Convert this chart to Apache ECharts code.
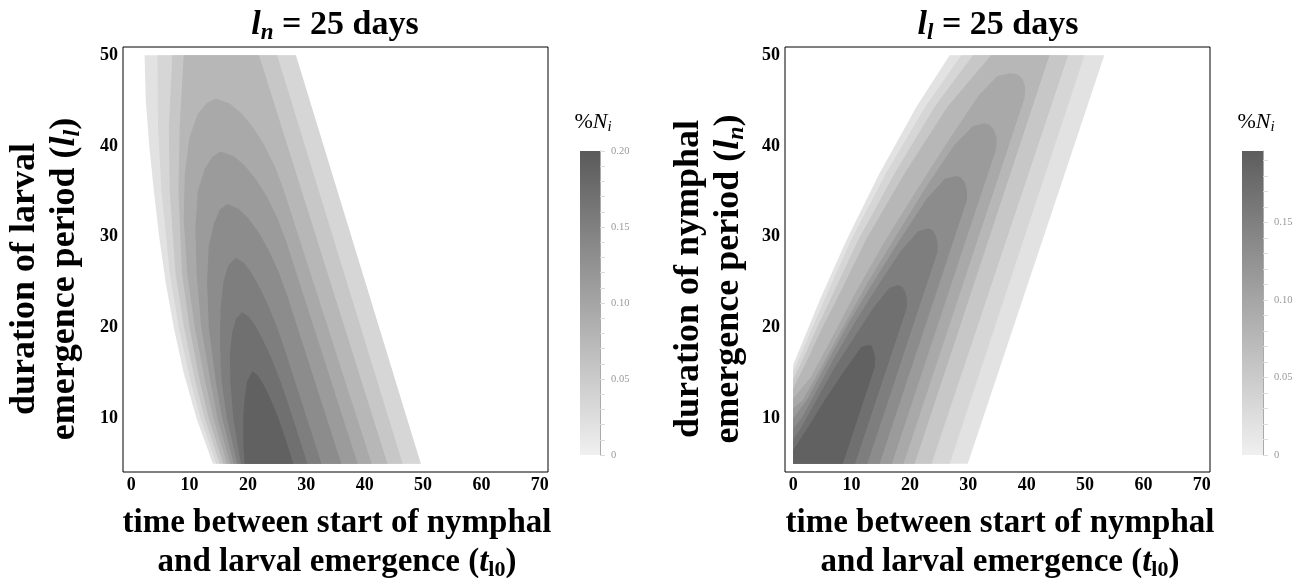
<!DOCTYPE html>
<html><head><meta charset="utf-8">
<script src="https://cdn.jsdelivr.net/npm/echarts@6/dist/echarts.min.js"></script>
<style>html,body{margin:0;padding:0;background:#fff}#c{width:1304px;height:582px}</style>
</head><body><div id="c"></div>
<script>
// ---- tick labels ----
const xTicks = [0, 10, 20, 30, 40, 50, 60, 70];
const yTicks = [10, 20, 30, 40, 50];
const cbLabelsLeft = [0, 0.05, 0.10, 0.15, 0.20];
const cbLabelsRight = [0, 0.05, 0.10, 0.15];
const cbMinorTicks = [0,0.01,0.02,0.03,0.04,0.05,0.06,0.07,0.08,0.09,0.10,0.11,0.12,0.13,0.14,0.15,0.16,0.17,0.18,0.19,0.20];
const cbMaxLeft = 0.20;
const cbMaxRight = 0.196;
// lower bound of each shaded band (%N_i); band k lies above contour level k
const bandLevels = [0, 0.02, 0.04, 0.06, 0.08, 0.10, 0.12, 0.14, 0.16, 0.18];

// ---- left panel (l_n = 25 days): regions [t_l0, l_l] where %N_i >= level ----
const leftDomain = [[2.3,50],[28.2,50],[49.6,5],[14.0,5],[11.2,10],[9.0,15],[7.3,20],[5.9,25],[4.8,30],[3.9,35],[3.1,40],[2.5,45]];
const leftL1 = [[4.5,50],[28.2,50],[49.6,5],[14.6,5],[11.9,10],[10.2,14],[8.15,20],[6.6,26],[5.2,35],[4.6,42]];
const leftL2 = [[7.05,50],[25.0,50],[46.5,5],[15.2,5],[12.6,10],[11.0,14],[9.05,20],[7.6,26],[6.6,35],[6.45,42]];
const leftL3 = [[9.0,50],[21.9,50],[32.9,27.5],[43.9,5],[15.8,5],[13.3,10],[11.8,14],[10.0,20],[8.7,26],[8.1,35],[8.3,42]];
const leftL4 = [[14.5,45.2],[16.81,44.7],[18.73,43.7],[20.71,42.2],[22.72,40.2],[24.64,37.7],[26.1,35.2],[41.2,5],[16.4,5],[14.1,10],[12.7,14],[10.9,20],[9.6,26],[9.0,32],[9.2,37],[10.0,41],[11.4,43.5],[12.9,44.7]];
const leftL5 = [[15.3,39.4],[17.52,38.9],[19.37,37.9],[21.3,36.4],[23.26,34.4],[25.15,31.9],[26.6,29.4],[38.8,5],[17.0,5],[14.8,10],[13.6,14],[12.0,20],[11.2,26],[11.0,31],[11.4,35],[12.6,37.5],[13.9,38.8]];
const leftL6 = [[16.5,33.6],[18.37,33.1],[19.99,32.1],[21.71,30.6],[23.5,28.6],[25.28,26.1],[26.7,23.6],[36.0,5],[17.6,5],[15.6,10],[14.5,14],[13.3,20],[13.0,25],[13.3,29],[14.2,31.5],[15.2,33]];
const leftL7 = [[17.9,27.7],[19.2,27.2],[20.42,26.2],[21.79,24.7],[23.3,22.7],[24.89,20.2],[26.25,17.7],[32.6,5],[18.2,5],[16.4,10],[15.5,14],[15.2,18],[15.3,22],[15.8,25],[16.6,26.8]];
const leftL8 = [[19.0,21.7],[20.14,21.2],[21.25,20.2],[22.53,18.7],[23.97,16.7],[25.51,14.2],[26.85,11.7],[30.2,5],[18.8,5],[17.5,10],[17.0,14],[16.9,17],[17.3,19.5],[18.0,21]];
const leftL9 = [[20.75,15.2],[21.54,14.85],[22.31,14.14],[23.21,13.07],[24.21,11.65],[25.3,9.88],[26.25,8.1],[27.8,5],[19.4,5],[19.2,7.5],[19.2,10],[19.4,12],[19.8,14]];

// ---- right panel (l_l = 25 days): regions [t_l0, l_n] ----
const rightDomain = [[0,5],[29.9,5],[53.3,50],[26.8,50],[21.1,44.3],[14.8,37.0],[9.1,29.6],[4.54,23.0],[0,15.9]];
const rightL1 = [[0,5],[26.8,5],[49.9,50],[28.8,50],[22.6,44.3],[15.9,37],[9.9,29.6],[5.3,23],[3.3,20],[0.6,16],[0,15.2]];
const rightL2 = [[0,5],[23.7,5],[47.1,50],[30.8,50],[24.2,44.3],[17.4,37],[11.1,29.6],[6.3,23],[4.1,20],[1.3,16],[0,14.3]];
const rightL3 = [[0,5],[20.8,5],[43.9,50],[33.9,50],[26.4,44.3],[19.1,37],[12.4,29.6],[7.4,23],[5.0,20],[2.1,16],[0,13.3]];
const rightL4 = [[0,5],[18.9,5],[39.65,45.3],[39.75,46.4],[39.3,47.4],[38.4,47.9],[37.1,48.0],[35.0,47.7],[31.8,45.6],[26.8,40.8],[21.0,35.0],[15.6,29.4],[10.8,24.0],[6.5,18.7],[3.0,14.5],[0,12.2]];
const rightL5 = [[0,5],[16.9,5],[34.77,39.7],[34.85,40.8],[34.4,41.8],[33.6,42.35],[32.8,42.5],[30.8,42.2],[27.6,40.1],[22.8,35.5],[17.8,30.3],[12.8,25.0],[8.3,19.8],[4.3,15.0],[1.6,12.0],[0,11.1]];
const rightL6 = [[0,5],[14.8,5],[29.74,34.0],[29.8,35.0],[29.4,36.0],[28.7,36.55],[27.9,36.7],[26.0,36.4],[23.0,34.3],[18.5,29.9],[14.0,25.3],[9.5,20.5],[5.5,15.8],[2.5,12.2],[0,10.0]];
const rightL7 = [[0,5],[12.7,5],[24.7,28.3],[24.75,29.3],[24.4,30.2],[23.8,30.75],[23.1,30.9],[21.4,30.6],[18.5,28.5],[14.5,24.6],[10.5,20.5],[6.8,16.4],[3.4,12.3],[1.4,10.0],[0,8.9]];
const rightL8 = [[0,5],[10.6,5],[19.46,22.2],[19.5,23.1],[19.2,23.95],[18.65,24.5],[17.95,24.7],[16.5,24.4],[14.0,22.4],[10.5,19.0],[7.0,15.5],[3.7,11.7],[1.3,8.9],[0,7.7]];
const rightL9 = [[0,5],[8.5,5],[14.0,15.7],[14.05,16.6],[13.75,17.5],[13.45,17.95],[13.1,18.1],[11.7,17.9],[8.5,15.0],[5.4,12.0],[2.4,8.9],[0,6.5]];

const leftPolys = [leftDomain, leftL1, leftL2, leftL3, leftL4, leftL5, leftL6, leftL7, leftL8, leftL9];
const rightPolys = [rightDomain, rightL1, rightL2, rightL3, rightL4, rightL5, rightL6, rightL7, rightL8, rightL9];

// ---- styles ----
const bandColors = ['#e2e2e2', '#d6d6d6', '#c7c7c7', '#b7b7b7', '#a9a9a9', '#9b9b9b', '#8c8c8c', '#7e7e7e', '#707070', '#616161'];
const DARK = [90, 90, 90], LIGHT = [240, 240, 240];
function gray(frac) {
  const c = LIGHT.map((v, i) => Math.round(v + (DARK[i] - v) * frac));
  return 'rgb(' + c.join(',') + ')';
}
const SERIF = '"Liberation Serif","DejaVu Serif",serif';

function polyRenderer(polys) {
  return function (params, api) {
    const k = api.value(0);
    const pts = polys[k].map(p => api.coord(p));
    return { type: 'polygon', shape: { points: pts }, style: { fill: bandColors[k], stroke: null }, silent: true };
  };
}

function frameX(idx) {
  return { gridIndex: idx, type: 'value', min: -1.4, max: 71.4,
    splitLine: { show: false }, axisLine: { show: false }, axisTick: { show: false },
    axisLabel: { customValues: xTicks, color: '#000', fontFamily: SERIF, fontWeight: 'bold', fontSize: 18, margin: 4 } };
}
function frameY(idx) {
  return { gridIndex: idx, type: 'value', min: 4.1, max: 50.9,
    splitLine: { show: false }, axisLine: { show: false }, axisTick: { show: false },
    axisLabel: { customValues: yTicks, color: '#000', fontFamily: SERIF, fontWeight: 'bold', fontSize: 18, margin: 5 } };
}
function cbX(idx) { return { gridIndex: idx, type: 'category', data: [''], show: false }; }
function cbY(idx, max, labels) {
  return { gridIndex: idx, type: 'value', min: 0, max: max, position: 'right',
    splitLine: { show: false },
    axisLine: { show: true, lineStyle: { color: '#aaa', width: 1 } },
    axisTick: { show: true, customValues: cbMinorTicks.filter(v => v <= max + 1e-9), length: 5, lineStyle: { color: '#ddd' } },
    axisLabel: { customValues: labels, color: '#999', fontFamily: SERIF, fontSize: 10.5, margin: 11,
      formatter: v => (Math.abs(v) < 1e-9 ? '0' : v.toFixed(2)) } };
}
function cbBar(idx, max) {
  return { type: 'bar', xAxisIndex: idx, yAxisIndex: idx, barWidth: '100%', data: [max], silent: true,
    itemStyle: { color: new echarts.graphic.LinearGradient(0, 0, 0, 1, [
      { offset: 0, color: gray(max / 0.20) }, { offset: 1, color: gray(0) }]) } };
}

const bold = { fontFamily: SERIF, fontWeight: 'bold', fontSize: 34, lineHeight: 44, fill: '#000' };
const boldIt = Object.assign({}, bold, { fontStyle: 'italic' });
const subIt = { fontFamily: SERIF, fontWeight: 'bold', fontStyle: 'italic', fontSize: 23, lineHeight: 44, padding: [16, 0, 0, 0], fill: '#000' };
const axT = { fontFamily: SERIF, fontWeight: 'bold', fontSize: 33, lineHeight: 39, fill: '#000' };
const axTi = Object.assign({}, axT, { fontStyle: 'italic' });
const axSubUp = { fontFamily: SERIF, fontWeight: 'bold', fontSize: 22, lineHeight: 39, padding: [16, 0, 0, 0], fill: '#000' };
const ayT = { fontFamily: SERIF, fontWeight: 'bold', fontSize: 36, lineHeight: 40, fill: '#000' };
const ayTi = Object.assign({}, ayT, { fontStyle: 'italic' });
const aySubIt = { fontFamily: SERIF, fontWeight: 'bold', fontStyle: 'italic', fontSize: 24, lineHeight: 40, padding: [16, 0, 0, 0], fill: '#000' };
const cbT = { fontFamily: SERIF, fontSize: 22, lineHeight: 28, fill: '#000' };
const cbTi = Object.assign({}, cbT, { fontStyle: 'italic' });
const cbSub = { fontFamily: SERIF, fontStyle: 'italic', fontSize: 15, lineHeight: 28, padding: [11, 0, 0, 0], fill: '#000' };

function txt(x, y, text, rich, rot) {
  return { type: 'text', x: x, y: y, rotation: rot || 0, silent: true,
    style: { text: text, rich: rich, align: 'center', verticalAlign: 'middle' } };
}

const option = {
  animation: false,
  backgroundColor: '#fff',
  grid: [
    { left: 123, top: 47, width: 425, height: 425, show: true, borderColor: '#000', borderWidth: 1, backgroundColor: 'transparent' },
    { left: 785, top: 47, width: 425, height: 425, show: true, borderColor: '#000', borderWidth: 1, backgroundColor: 'transparent' },
    { left: 580, top: 151, width: 20, height: 304 },
    { left: 1242, top: 151, width: 21, height: 304 }
  ],
  xAxis: [frameX(0), frameX(1), cbX(2), cbX(3)],
  yAxis: [frameY(0), frameY(1), cbY(2, cbMaxLeft, cbLabelsLeft), cbY(3, cbMaxRight, cbLabelsRight)],
  series: [
    { type: 'custom', xAxisIndex: 0, yAxisIndex: 0, data: leftPolys.map((_, i) => [i]), renderItem: polyRenderer(leftPolys), silent: true },
    { type: 'custom', xAxisIndex: 1, yAxisIndex: 1, data: rightPolys.map((_, i) => [i]), renderItem: polyRenderer(rightPolys), silent: true },
    cbBar(2, cbMaxLeft),
    cbBar(3, cbMaxRight)
  ],
  graphic: [
    txt(335, 25, '{i|l}{s|n}{b| = 25 days}', { i: boldIt, s: subIt, b: bold }),
    txt(998, 25, '{i|l}{s|l}{b| = 25 days}', { i: boldIt, s: subIt, b: bold }),
    txt(337, 543, '{b|time between start of nymphal}\n{b|and larval emergence (}{i|t}{s|l0}{b|)}', { b: axT, i: axTi, s: axSubUp }),
    txt(1000, 543, '{b|time between start of nymphal}\n{b|and larval emergence (}{i|t}{s|l0}{b|)}', { b: axT, i: axTi, s: axSubUp }),
    txt(45, 279, '{b|duration of larval}\n{b|emergence period (}{i|l}{s|l}{b|)}', { b: ayT, i: ayTi, s: aySubIt }, Math.PI / 2),
    txt(709, 279, '{b|duration of nymphal}\n{b|emergence period (}{i|l}{s|n}{b|)}', { b: ayT, i: ayTi, s: aySubIt }, Math.PI / 2),
    txt(593, 122, '{b|%}{i|N}{s|i}', { b: cbT, i: cbTi, s: cbSub }),
    txt(1256, 122, '{b|%}{i|N}{s|i}', { b: cbT, i: cbTi, s: cbSub })
  ]
};
const chart = echarts.init(document.getElementById('c'), null, { renderer: 'canvas' });
chart.setOption(option);
</script></body></html>
